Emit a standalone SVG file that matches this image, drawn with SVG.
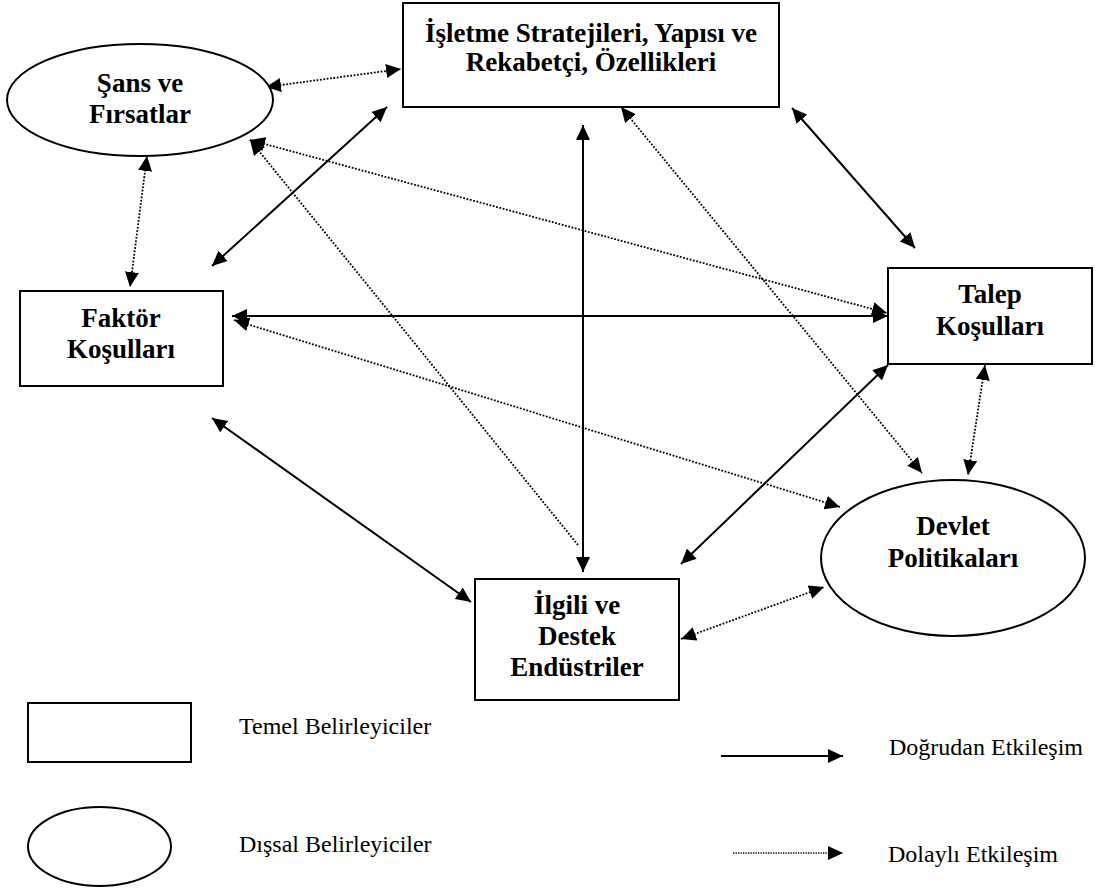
<svg xmlns="http://www.w3.org/2000/svg" width="1097" height="888" viewBox="0 0 1097 888">
  <style>
    .box { fill: #fff; stroke: #000; stroke-width: 2; }
    .lbl { font-weight: bold; font-size: 27px; text-anchor: middle; fill: #000; }
    .leg { font-size: 24px; fill: #000; }
    .direct { stroke: #000; stroke-width: 2; fill: none; }
    .indirect { stroke: #000; stroke-width: 1.8; stroke-dasharray: 1.8 1.6; fill: none; }
    .two { marker-start: url(#head); marker-end: url(#head); }
    .one { marker-end: url(#head); }
  </style>
  <defs>
    <marker id="head" markerUnits="userSpaceOnUse" markerWidth="16" markerHeight="14" refX="15" refY="7" orient="auto-start-reverse">
      <path d="M0,0 L15,7 L0,14 z" fill="#000"/>
    </marker>
  </defs>

  <rect width="1097" height="888" fill="#fff"/>

  <!-- connectors -->
  <g id="connectors">
    <!-- direct interactions -->
    <line class="direct two" x1="387" y1="107" x2="212" y2="266"/>
    <line class="direct two" x1="583" y1="125" x2="583" y2="572"/>
    <line class="direct two" x1="792" y1="108" x2="915" y2="248"/>
    <line class="direct two" x1="232" y1="316" x2="888" y2="316"/>
    <line class="direct two" x1="212" y1="418" x2="471" y2="602"/>
    <line class="direct two" x1="888" y1="365" x2="681" y2="564"/>
    <!-- indirect interactions -->
    <line class="indirect two" x1="266" y1="87" x2="401" y2="69"/>
    <line class="indirect two" x1="147" y1="156" x2="130" y2="287"/>
    <line class="indirect two" x1="250" y1="140" x2="887" y2="313"/>
    <line class="indirect one" x1="578" y1="545" x2="250" y2="140"/>
    <line class="indirect two" x1="621" y1="107" x2="922" y2="473"/>
    <line class="indirect two" x1="234" y1="320" x2="840" y2="507"/>
    <line class="indirect two" x1="985" y1="365" x2="968" y2="475"/>
    <line class="indirect two" x1="681" y1="639" x2="824" y2="587"/>
  </g>

  <!-- determinants -->
  <g id="isletme" font-family="Liberation Serif, Times New Roman, serif">
    <rect class="box" x="403" y="3" width="376" height="104"/>
    <text class="lbl" x="591" y="42">İşletme Stratejileri, Yapısı ve</text>
    <text class="lbl" x="591" y="71">Rekabetçi, Özellikleri</text>
  </g>
  <g id="sans" font-family="Liberation Serif, Times New Roman, serif">
    <ellipse class="box" cx="140" cy="100" rx="133" ry="56"/>
    <text class="lbl" x="140" y="92">Şans ve</text>
    <text class="lbl" x="140" y="123">Fırsatlar</text>
  </g>
  <g id="faktor" font-family="Liberation Serif, Times New Roman, serif">
    <rect class="box" x="20" y="291" width="203" height="95"/>
    <text class="lbl" x="121" y="327">Faktör</text>
    <text class="lbl" x="121" y="358">Koşulları</text>
  </g>
  <g id="talep" font-family="Liberation Serif, Times New Roman, serif">
    <rect class="box" x="888" y="268" width="204" height="96"/>
    <text class="lbl" x="990" y="303">Talep</text>
    <text class="lbl" x="990" y="335">Koşulları</text>
  </g>
  <g id="devlet" font-family="Liberation Serif, Times New Roman, serif">
    <ellipse class="box" cx="953" cy="558" rx="132" ry="78"/>
    <text class="lbl" x="953" y="535">Devlet</text>
    <text class="lbl" x="953" y="567">Politikaları</text>
  </g>
  <g id="ilgili" font-family="Liberation Serif, Times New Roman, serif">
    <rect class="box" x="475" y="579" width="204" height="121"/>
    <text class="lbl" x="577" y="614">İlgili ve</text>
    <text class="lbl" x="577" y="645">Destek</text>
    <text class="lbl" x="577" y="676">Endüstriler</text>
  </g>

  <!-- legend -->
  <g id="legend" font-family="Liberation Serif, Times New Roman, serif">
    <rect class="box" x="28" y="703" width="163" height="59"/>
    <text class="leg" x="239" y="734">Temel Belirleyiciler</text>
    <ellipse class="box" cx="99.5" cy="846.5" rx="71.5" ry="39.5"/>
    <text class="leg" x="239" y="852">Dışsal Belirleyiciler</text>
    <line class="direct one" x1="721" y1="756" x2="843" y2="756"/>
    <text class="leg" x="889" y="755">Doğrudan Etkileşim</text>
    <line class="one" x1="733" y1="853" x2="843" y2="853" stroke="#000" stroke-width="1.3" stroke-dasharray="1.3 1.2"/>
    <text class="leg" x="888" y="862">Dolaylı Etkileşim</text>
  </g>
</svg>
